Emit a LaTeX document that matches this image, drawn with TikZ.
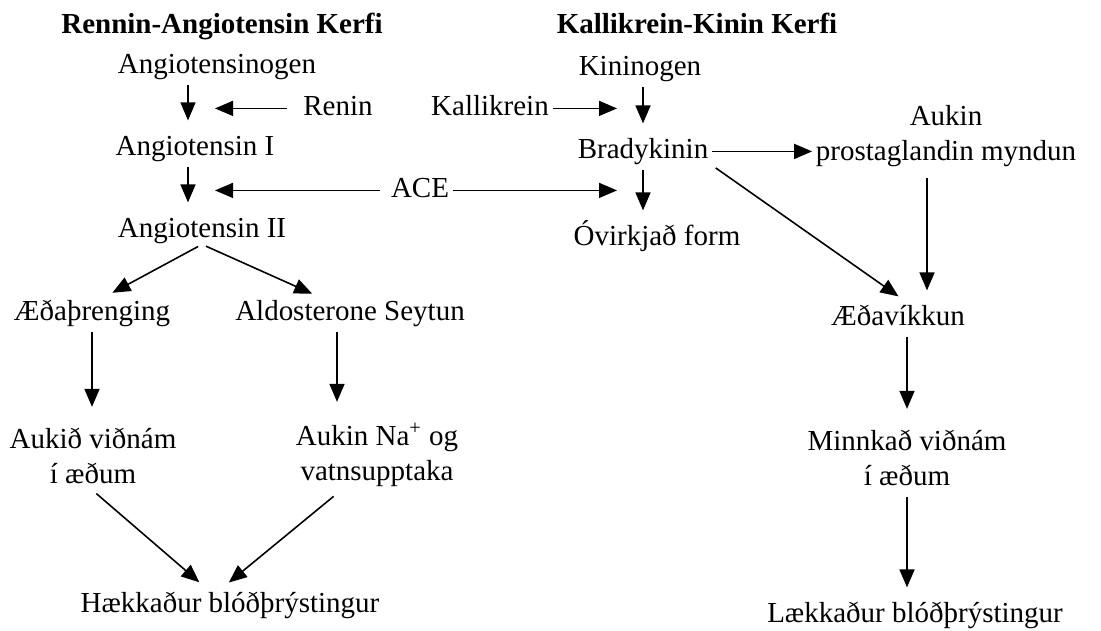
\documentclass[tikz,border=0pt]{standalone}
\usepackage{fontspec}
\setmainfont{Liberation Serif}
\usepackage{tikz}
\usetikzlibrary{arrows.meta,positioning,calc}

\begin{document}
\begin{tikzpicture}[
  x=0.02cm, y=-0.02cm,
  lbl/.style={font=\fontsize{16.5}{19.5}\selectfont, inner xsep=2pt, inner ysep=0pt,
              text height=11.5pt, text depth=4pt, anchor=base},
  ttl/.style={lbl, font=\fontsize{16.5}{19.5}\selectfont\bfseries},
  two/.style={font=\fontsize{16.5}{19.5}\selectfont, align=center,
              inner xsep=2pt, inner ysep=4pt, anchor=base},
  ar/.style={-{Triangle[length=3.6mm,width=3mm]}, line width=0.9pt,
             shorten <=2.5pt, shorten >=8pt},
  hr/.style={-{Triangle[length=3.6mm,width=3mm]}, line width=0.9pt}
]
  \useasboundingbox (0,0) rectangle (1101,630);
  \node[ttl] (ras) at (222,33) {Rennin-Angiotensin Kerfi};
  \node[ttl] (kks) at (697,33) {Kallikrein-Kinin Kerfi};
  \node[lbl] (ang0) at (217,73) {Angiotensinogen};
  \node[lbl] (renin) at (338,115) {Renin};
  \node[lbl] (ang1) at (195,155) {Angiotensin I};
  \node[lbl] (ace) at (420,197) {ACE};
  \node[lbl] (ang2) at (202,237) {Angiotensin II};
  \node[lbl] (kin) at (640,75) {Kininogen};
  \node[lbl] (kal) at (490,115) {Kallikrein};
  \node[lbl] (brady) at (643,158) {Bradykinin};
  \node[lbl] (ovir) at (657,245) {Óvirkjað form};
  \node[two] (prosta) at (946,160) {Aukin\\prostaglandin myndun};
  \node[lbl] (aeth) at (92,320) {Æðaþrenging};
  \node[lbl] (aldo) at (350,320) {Aldosterone Seytun};
  \node[two] (auk) at (93,483) {Aukið viðnám\\í æðum};
  \node[two] (na) at (377,480) {Aukin Na\textsuperscript{+} og\\vatnsupptaka};
  \node[lbl] (hk) at (230,612) {Hækkaður blóðþrýstingur};
  \node[lbl] (aed) at (898,325) {Æðavíkkun};
  \node[two] (minn) at (907,485) {Minnkað viðnám\\í æðum};
  \node[lbl] (lk) at (915,622) {Lækkaður blóðþrýstingur};

  \coordinate (lsh) at (188,0);
  \coordinate (lcat) at (215,0);
  \coordinate (rcat) at (617,0);
  \coordinate (msh) at (337,0);
  \coordinate (psh) at (927,0);

  \draw[ar] (ang0.south -| lsh) -- (ang1.north -| lsh);
  \draw[ar] (ang1.south -| lsh) -- (ang2.north -| lsh);
  \draw[hr, shorten <=7pt] (renin.west) -- (renin.west -| lcat);
  \draw[hr, shorten <=4pt] (ace.west) -- (ace.west -| lcat);
  \draw[hr] (ace.east) -- (ace.east -| rcat);
  \draw[hr] (kal.east) -- (kal.east -| rcat);
  \draw[ar] (ang2.south) -- ($(aeth.north)+(8,0)$);
  \draw[ar] (ang2.south) -- ($(aldo.north)+(-25,0)$);
  \draw[ar] (aeth.south) -- (aeth.south |- auk.north);
  \draw[ar] (aldo.south -| msh) -- (na.north -| msh);
  \draw[ar] (auk.south) -- ($(hk.north)+(-20,0)$);
  \draw[ar] (na.south -| msh) -- ($(hk.north)+(-12,0)$);
  \draw[ar] (kin.south -| brady) -- (brady.north);
  \draw[hr] (brady.east) -- (brady.east -| prosta.west);
  \draw[ar] (brady.south) -- (brady.south |- ovir.north);
  \draw[ar] (brady.south east) -- ($(aed.north)+(12,0)$);
  \draw[ar] (prosta.south -| psh) -- (aed.north -| psh);
  \draw[ar] (aed.south -| minn) -- (minn.north);
  \draw[ar] (minn.south) -- (minn.south |- lk.north);
\end{tikzpicture}
\end{document}
